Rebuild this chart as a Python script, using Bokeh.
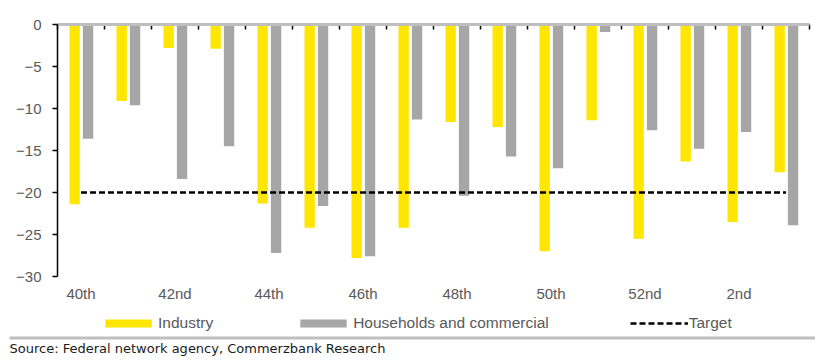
from bokeh.plotting import figure
from bokeh.layouts import column
from bokeh.models import (ColumnDataSource, Range1d, LinearAxis, FixedTicker, Legend,
                          LegendItem, BoxAnnotation, Label)
from bokeh.embed import file_html
from bokeh.resources import INLINE

weeks = ["40th", "41st", "42nd", "43rd", "44th", "45th", "46th", "47th",
         "48th", "49th", "50th", "51st", "52nd", "1st", "2nd", "3rd"]
industry = [-21.4, -9.1, -2.8, -2.9, -21.3, -24.2, -27.8, -24.2,
            -11.6, -12.2, -27.0, -11.4, -25.5, -16.3, -23.5, -17.6]
households = [-13.6, -9.6, -18.4, -14.5, -27.2, -21.6, -27.6, -11.3,
              -20.4, -15.7, -17.1, -0.9, -12.6, -14.8, -12.8, -23.9]
target = [-20, -20, -20, -20, -20, -20, -20, -20,
          -20, -20, -20, -20, -20, -20, -20, -20]
y_ticks = [0, -5, -10, -15, -20, -25, -30]
series_names = ["Industry", "Households and commercial", "Target"]
source_text = "Source: Federal network agency, Commerzbank Research"

n = len(weeks)
centers = [i + 0.5 for i in range(n)]
src = ColumnDataSource(dict(
    xc=centers,
    xi=[c - 0.135 for c in centers],
    xh=[c + 0.15 for c in centers],
    ind=industry, hh=households, tgt=target,
))

YELLOW = "#FFE600"
GREY = "#A6A6A6"
RULE = "#BFBFBF"
LABEL_GREY = "#595959"
FONT = "Liberation Sans"
W = 815

# ---------- main chart ----------
p = figure(width=W, height=305, x_range=Range1d(0, n), y_range=Range1d(-30, 0),
           output_backend="svg", toolbar_location=None, frame_align=False,
           min_border_left=57, min_border_right=6, min_border_top=24, min_border_bottom=29)
p.outline_line_color = None
p.xgrid.visible = False
p.ygrid.visible = False

bar_kw = dict(width=0.22, line_color=None)
p.vbar(x="xi", top=0, bottom="ind", source=src, fill_color=YELLOW, **bar_kw)
p.vbar(x="xh", top=0, bottom="hh", source=src, fill_color=GREY, **bar_kw)
line_kw = dict(line_color="black", line_width=2.5, line_dash="6 3")
p.line(x="xc", y="tgt", source=src, **line_kw)

xa = p.xaxis[0]
xa.ticker = FixedTicker(ticks=centers[::2])
xa.major_label_overrides = {centers[i]: weeks[i] for i in range(0, n, 2)}
xa.axis_line_color = None
xa.major_tick_line_color = None
xa.minor_tick_line_color = None
xa.major_tick_out = 0
xa.major_tick_in = 0
xa.major_label_standoff = 8
xa.major_label_text_font = FONT
xa.major_label_text_font_size = "15px"
xa.major_label_text_color = LABEL_GREY

# zero line (top axis) with tick marks at category boundaries
ta = LinearAxis(ticker=FixedTicker(ticks=list(range(n + 1))),
                major_tick_in=5, major_tick_out=0,
                major_label_text_font_size="1px", major_label_standoff=17,
                major_label_text_alpha=0,
                minor_tick_line_color=None, axis_line_color="black",
                axis_line_width=1.5, major_tick_line_width=1.5)
p.add_layout(ta, "above")
# grey rule at the very top
rule_axis = LinearAxis(ticker=FixedTicker(ticks=[]), axis_line_color=RULE,
                       axis_line_width=3, major_tick_line_color=None,
                       minor_tick_line_color=None, major_label_text_font_size="1px",
                       major_label_standoff=0, major_label_text_alpha=0)
p.add_layout(rule_axis, "above")

ya = p.yaxis[0]
ya.ticker = FixedTicker(ticks=y_ticks)
ya.major_tick_out = 5
ya.major_tick_in = 0
ya.minor_tick_line_color = None
ya.axis_line_color = "black"
ya.axis_line_width = 1.5
ya.major_tick_line_width = 1.5
ya.major_label_standoff = 11
ya.major_label_text_font = FONT
ya.major_label_text_font_size = "15px"
ya.major_label_text_color = LABEL_GREY

# ---------- footer: legend, rule, source ----------
FH = 57
footer = figure(width=W, height=FH, x_range=Range1d(0, W), y_range=Range1d(FH, 0),
                x_axis_location=None, y_axis_location=None, frame_align=False,
                output_backend="svg", toolbar_location=None,
                min_border_left=0, min_border_right=0, min_border_top=0, min_border_bottom=0,
                outline_line_color=None)
footer.xgrid.visible = False
footer.ygrid.visible = False
# legend proxies: same data, mapped to ranges that keep them out of view
footer.extra_x_ranges = {"off": Range1d(100, 200)}
footer.extra_y_ranges = {"off": Range1d(100, 200)}
off = dict(x_range_name="off", y_range_name="off")
l1 = footer.vbar(x="xi", top=0, bottom="ind", source=src, fill_color=YELLOW, **bar_kw, **off)
l2 = footer.vbar(x="xh", top=0, bottom="hh", source=src, fill_color=GREY, **bar_kw, **off)
l3 = footer.line(x="xc", y="tgt", source=src, **line_kw, **off)

legend = Legend(items=[LegendItem(label=series_names[0], renderers=[l1]),
                       LegendItem(label=series_names[1], renderers=[l2]),
                       LegendItem(label=series_names[2], renderers=[l3])],
                orientation="horizontal", location=(99, 30), padding=0, margin=0,
                spacing=81, glyph_width=58, glyph_height=10, label_standoff=1,
                label_height=16, label_text_font=FONT, label_text_font_size="15.5px",
                label_text_color=LABEL_GREY, border_line_color=None,
                background_fill_alpha=0)
footer.add_layout(legend)

footer.add_layout(BoxAnnotation(left=9, right=W, top=31, bottom=34,
                                fill_color=RULE, fill_alpha=1, line_color=None))
footer.add_layout(Label(x=9, y=43, text=source_text, text_baseline="middle",
                        text_font="DejaVu Sans", text_font_size="13px",
                        text_color="#1a1a1a"))

layout = column(p, footer, spacing=0)
open("out.html", "w").write(file_html(layout, INLINE))
